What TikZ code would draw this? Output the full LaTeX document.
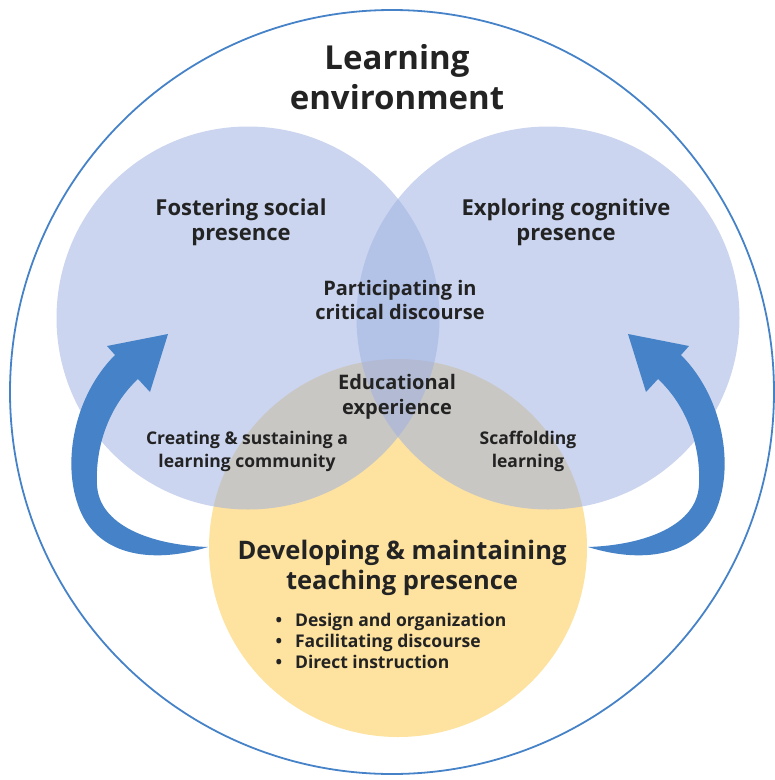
\documentclass[tikz,border=0pt]{standalone}
\usepackage{fontspec}
\setmainfont{Open Sans}
\usepackage{tikz}

\definecolor{envblue}{RGB}{70,130,200}
\definecolor{presblue}{RGB}{160,178,225}
\definecolor{teachyellow}{RGB}{253,226,160}
\definecolor{inktext}{RGB}{35,35,35}

\begin{document}
\begin{tikzpicture}[x=1pt, y=-1pt,
      presence/.style={circle, inner sep=0pt, minimum size=#1},
      tag/.style={align=center, text=inktext},
      swoosh/.style={fill=envblue}
      ]
      \useasboundingbox (0,0) rectangle (775,780);
      % outer ring
      \node[presence=764pt, draw=envblue, line width=1.8pt] (env) at (392,392) {};
      % the three presences
      \node[presence=378pt, fill=teachyellow] (teaching) at (398,548) {};
      \node[presence=383pt, fill=presblue, fill opacity=0.55] (social) at (248,318) {};
      \node[presence=383pt, fill=presblue, fill opacity=0.55] (cognitive) at (548,318) {};
      % arrows
      \fill[swoosh] (208,547) .. controls (150,565) and (95,555) .. (78,505)
        .. controls (62,460) and (75,395) .. (115,355) -- (107,346) -- (168,334)
        -- (150,392) -- (138,379) .. controls (110,405) and (95,445) .. (97,485)
        .. controls (99,525) and (150,545) .. (208,547) -- cycle;
      \fill[swoosh] (588,547) .. controls (646,565) and (701,555) .. (718,505)
        .. controls (734,460) and (721,395) .. (681,355) -- (689,346) -- (628,334)
        -- (646,392) -- (658,379) .. controls (686,405) and (701,445) .. (699,485)
        .. controls (697,525) and (646,545) .. (588,547) -- cycle;
      % texts
      \node[tag, font=\bfseries\fontsize{33}{40}\selectfont] (envtitle) at (397,77) {Learning\\environment};
      \node[tag, font=\bfseries\fontsize{22}{25}\selectfont] (socialtitle) at (241,222) {Fostering social\\presence};
      \node[tag, font=\bfseries\fontsize{22}{25}\selectfont] (cognitivetitle) at (566,222) {Exploring cognitive\\presence};
      \node[tag, font=\bfseries\fontsize{20}{24}\selectfont] (discourse) at (400,300) {Participating in\\critical discourse};
      \node[tag, font=\bfseries\fontsize{20}{25}\selectfont] (experience) at (397,397) {Educational\\experience};
      \node[tag, font=\bfseries\fontsize{17.5}{23}\selectfont] (community) at (247,451) {Creating \& sustaining a\\learning community};
      \node[tag, font=\bfseries\fontsize{17.5}{23}\selectfont] (scaffold) at (528,451) {Scaffolding\\learning};
      \node[tag, font=\bfseries\fontsize{25.5}{30}\selectfont] (teachingtitle) at (402,568) {Developing \& maintaining\\teaching presence};
      \node[tag, align=left, anchor=west, font=\bfseries\fontsize{17.5}{21}\selectfont] (roles) at (272,641)
        {\textbullet\hspace{13pt}Design and organization\\
         \textbullet\hspace{13pt}Facilitating discourse\\
         \textbullet\hspace{13pt}Direct instruction};
    \end{tikzpicture}
\end{document}
